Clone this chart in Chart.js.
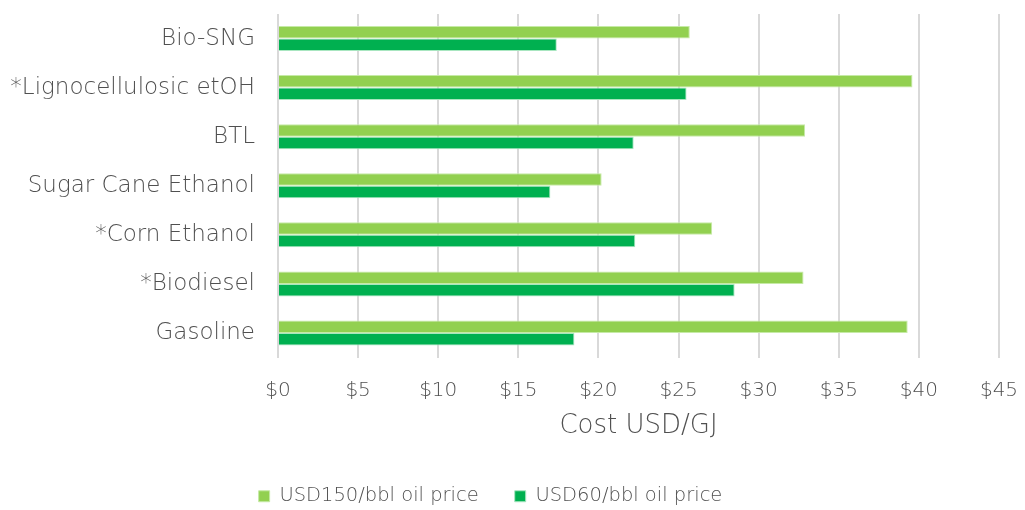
<!DOCTYPE html>
<html>
<head>
<meta charset="utf-8">
<script src="https://cdn.jsdelivr.net/npm/chart.js@4"></script>
<style>
	html, body { margin: 0; padding: 0; background: #fff; }
	#wrap { width: 1025px; height: 510px; }
</style>
</head>
<body>
<div id="wrap"><canvas id="bar_chart_cost"></canvas></div>
<script>
"use strict";

// categories, top to bottom
var categories = ['Bio-SNG', '*Lignocellulosic etOH', 'BTL', 'Sugar Cane Ethanol', '*Corn Ethanol', '*Biodiesel', 'Gasoline'];

// Cost USD/GJ
var usd150 = [25.7, 39.6, 32.9, 20.2, 27.1, 32.8, 39.3];
var usd60 = [17.4, 25.5, 22.2, 17.0, 22.3, 28.5, 18.5];

var seriesNames = ['USD150/bbl oil price', 'USD60/bbl oil price'];
var xMin = 0, xMax = 45, xStep = 5;

var fontFamily = "'DejaVu Sans', sans-serif";
var textColor = '#505050';

// legend sits a bit left of centre in the original
var shiftLegend = {
	id: 'shiftLegend',
	afterLayout: function (chart) {
		chart.legend.left -= 22;
		chart.legend.right -= 22;
	}
};

var costChart = new Chart('bar_chart_cost', {
	type: 'bar',
	data: {
		labels: categories,
		datasets: [{
			label: seriesNames[0],
			data: usd150,
			backgroundColor: '#92D050',
			borderColor: '#C6EAA6',
			borderWidth: 1,
			categoryPercentage: 0.51,
			barPercentage: 1
		}, {
			label: seriesNames[1],
			data: usd60,
			backgroundColor: '#00B050',
			borderColor: '#A8E6C0',
			borderWidth: 1,
			categoryPercentage: 0.51,
			barPercentage: 1
		}]
	},
	options: {
		indexAxis: 'y',
		responsive: true,
		maintainAspectRatio: false,
		animation: false,
		layout: {
			padding: { left: 0, right: 0, top: 14, bottom: -6 }
		},
		scales: {
			x: {
				min: xMin,
				max: xMax,
				grid: { color: '#D9D9D9', lineWidth: 2, drawTicks: false },
				border: { display: false },
				ticks: {
					stepSize: xStep,
					padding: 21,
					color: textColor,
					font: { family: fontFamily, size: 20, weight: 300 },
					callback: function (value) { return '$' + value; }
				},
				title: {
					display: true,
					text: 'Cost USD/GJ',
					color: textColor,
					font: { family: fontFamily, size: 26, weight: 300 },
					padding: { top: 0, bottom: 9 }
				},
				afterFit: function (scale) {
					scale.height = 93;
					scale.paddingRight = 26;
				}
			},
			y: {
				grid: { display: false, drawTicks: false },
				border: { display: false },
				ticks: {
					padding: 23,
					color: textColor,
					font: { family: fontFamily, size: 23, weight: 300 }
				},
				afterFit: function (scale) {
					scale.width = 278;
					scale.paddingTop = 0;
					scale.paddingBottom = 0;
				}
			}
		},
		plugins: {
			legend: {
				position: 'bottom',
				labels: {
					boxWidth: 11,
					boxHeight: 11,
					padding: 36,
					color: textColor,
					font: { family: fontFamily, size: 19.5, weight: 300 }
				}
			},
			tooltip: { enabled: false }
		}
	},
	plugins: [shiftLegend]
});
</script>
</body>
</html>
